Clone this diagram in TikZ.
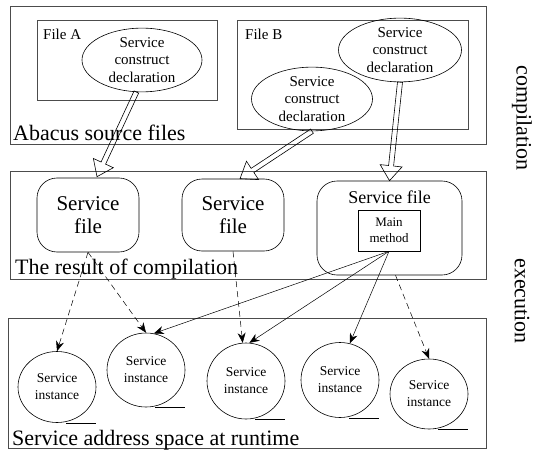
\documentclass[tikz,border=0pt]{standalone}
\usepackage{fontspec}
\setmainfont{Liberation Serif}
\usepackage{tikz}
\usetikzlibrary{arrows.meta}
\usetikzlibrary{shapes.geometric}
\usetikzlibrary{calc}

\newcommand{\hollowarrow}[2]{%
    \path let \p1 = ($(#2)-(#1)$), \n1 = {atan2(\y1,\x1)}, \n2 = {veclen(\x1,\y1)} in
        \pgfextra{\xdef\harang{\n1}\xdef\harlen{\n2}};
    \begin{scope}[shift={(#1)}, rotate=\harang]
        \draw [line width=0.6pt] (0pt,-2.5pt) -- (\harlen-15pt,-2.5pt) -- (\harlen-15pt,-11pt)
            -- (\harlen,0pt) -- (\harlen-15pt,11pt) -- (\harlen-15pt,2.5pt) -- (0pt,2.5pt) -- cycle;
    \end{scope}}

\begin{document}
\begin{tikzpicture}[x=1pt, y=-1pt,
        areabox/.style={draw=black!70, line width=0.8pt, inner sep=0pt},
        decl/.style={ellipse, draw, line width=0.6pt, inner sep=0pt, align=center, font=\fontsize{15}{17.5}\selectfont},
        sfile/.style={draw, line width=0.6pt, rounded corners=20pt, inner sep=0pt, align=center},
        instnode/.style={ellipse, draw, line width=0.6pt, minimum width=78pt, inner sep=0pt, align=center, font=\fontsize{13.5}{17}\selectfont},
        solidcall/.style={-{Stealth[length=10pt, width=8pt]}, line width=0.5pt},
        dashcall/.style={solidcall, dash pattern=on 6pt off 4pt},
        bigtext/.style={font=\fontsize{22}{24}\selectfont, inner sep=0pt}]
    \useasboundingbox (0,0) rectangle (534,449);
    % source files
    \node [areabox, minimum width=476pt, minimum height=138pt] (src) at (248,75) {};
    \node [areabox, minimum width=180pt, minimum height=80pt] (fileA) at (127,60) {};
    \node [areabox, minimum width=231pt, minimum height=109pt] (fileB) at (352.5,74.5) {};
    \node [anchor=base west, inner sep=0pt, font=\fontsize{15}{17}\selectfont] (labA) at (43,40) {File A};
    \node [anchor=base west, inner sep=0pt, font=\fontsize{15}{17}\selectfont] (labB) at (245,40) {File B};
    \node [decl, minimum width=120pt, minimum height=61pt] (declA) at (142,60) {Service\\construct\\declaration};
    \node [decl, minimum width=121pt, minimum height=58pt] (declB1) at (312,99) {Service\\construct\\declaration};
    \node [decl, minimum width=123pt, minimum height=55pt] (declB2) at (400,50) {Service\\construct\\declaration};
    \node [bigtext, anchor=base west] (labsrc) at (13,140) {Abacus source files};
    % compilation result
    \node [areabox, minimum width=476pt, minimum height=108pt] (res) at (248,225) {};
    \node [sfile, minimum width=102pt, minimum height=74pt, font=\fontsize{21}{23.5}\selectfont] (sf1) at (88,215) {Service\\file};
    \node [sfile, minimum width=102pt, minimum height=72pt, font=\fontsize{21}{23.5}\selectfont] (sf2) at (233,215) {Service\\file};
    \node [sfile, minimum width=145pt, minimum height=94pt] (sf3) at (389.5,228) {};
    \node [inner sep=0pt, font=\fontsize{18}{20}\selectfont] (sf3lab) at (389.5,197) {Service file};
    \node [draw, line width=0.6pt, minimum width=62pt, minimum height=41pt, inner sep=0pt, align=center,
        font=\fontsize{13}{16}\selectfont] (main) at (389,230.5) {Main\\method};
    \node [bigtext, anchor=base west] (labres) at (15,274) {The result of compilation};
    % runtime
    \node [areabox, minimum width=478pt, minimum height=130pt] (rt) at (247,383) {};
    \foreach \name/\cx/\cy/\h in {c1/57/387/71, c2/146/370/74, c3/246/381/76, c4/340/380/75, c5/429/394/70} {
        \node [instnode, minimum height=\h pt] (\name) at (\cx,\cy) {Service\\instance};
        \draw [line width=0.6pt] (\name.south) ++(9,0) -- (\name.south -| \name.east);
    }
    \node [bigtext, anchor=base west] (labrt) at (12,445) {Service address space at runtime};
    % side labels
    \node [bigtext, rotate=-90] (compl) at (522,118) {compilation};
    \node [bigtext, rotate=-90] (exec) at (522,301) {execution};
    % arrows
    \coordinate (sf1in) at ($(sf1.north)+(9,-1)$);
    \coordinate (sf2in) at ($(sf2.north)+(7,0)$);
    \hollowarrow{declA.260}{sf1in}
    \hollowarrow{declB1.south}{sf2in}
    \hollowarrow{declB2.south}{sf3.north}
    \draw [dashcall] (sf1.south) -- (c1.north);
    \draw [dashcall] (sf1.south) -- (c2.north);
    \draw [dashcall] (sf2.south) -- (c3.95);
    \draw [dashcall] ($(sf3.south)+(6,0)$) -- (c5.north);
    \draw [solidcall] (main.south) -- (c2.78);
    \draw [solidcall] (main.south) -- (c3.85);
    \draw [solidcall] (main.south) -- (c4.75);
\end{tikzpicture}
\end{document}
